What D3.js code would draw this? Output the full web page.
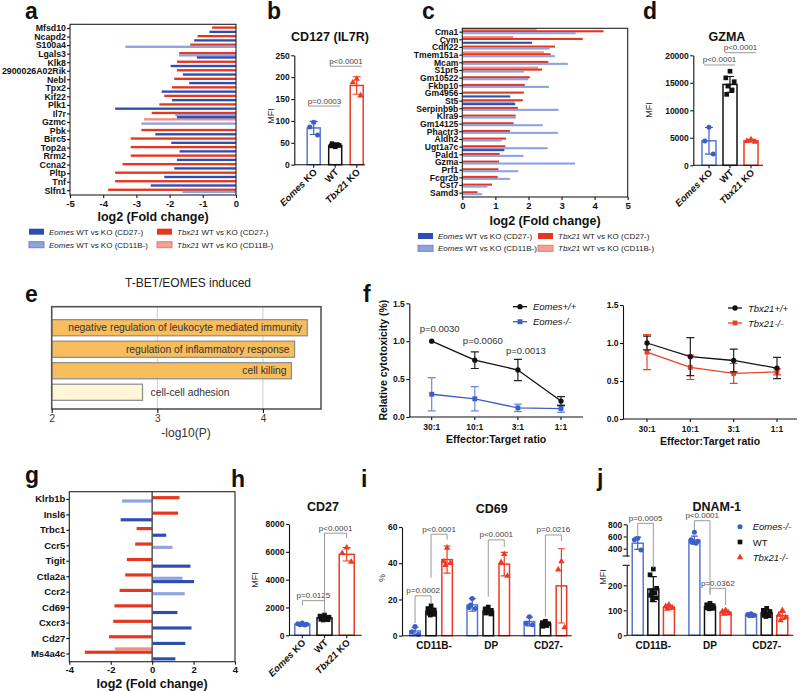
<!DOCTYPE html>
<html><head><meta charset="utf-8">
<script src="https://cdn.jsdelivr.net/npm/d3@7/dist/d3.min.js"></script>
<style>html,body{margin:0;padding:0;background:#fff;}</style>
</head><body>
<svg id="chart" width="800" height="691" xmlns="http://www.w3.org/2000/svg"></svg>
<script>
// ================= DATA =================
// panel a
const aGenes = ["Mfsd10","Ncapd2","S100a4","Lgals3","Klk8","2900026A02Rik","Nebl","Tpx2","Kif22","Plk1","Il7r","Gzmc","Pbk","Birc5","Top2a","Rrm2","Ccna2","Pltp","Tnf","Slfn1"];
const aTbx21CD11B = [null,null,null,null,null,null,null,null,null,null,null,-2.77,null,null,null,null,null,null,null,null];
const aTbx21CD27  = [-0.72,-1.16,-1.38,-1.71,-1.78,-1.78,-1.86,-1.93,-2.16,-2.31,-2.54,null,-2.85,-3.17,-3.17,-3.17,-3.42,-3.64,-3.64,-3.85];
const aEomesCD11B = [null,null,-3.33,-1.72,null,null,null,null,null,null,-1.83,-2.85,null,null,null,null,null,null,null,-1.61];
const aEomesCD27  = [-0.8,-1.26,null,-1.18,-1.97,-1.6,-1.41,-2.24,-1.93,-3.64,-1.78,null,-2.43,-1.95,-1.7,-1.78,-1.86,-2.16,-2.57,null];
const aTicks = [-5,-4,-3,-2,-1,0];
// panel c
const cGenes = ["Cma1","Cym","Cdh22","Tmem151a","Mcam","S1pr5","Gm10522","Fkbp10","Gm4956","St5","Serpinb9b","Klra9","Gm14125","Phactr3","Aldh2","Ugt1a7c","Pald1","Gzma","Prf1","Fcgr2b","Cst7","Samd3"];
const cTbx21CD11B = [2.25,1.54,null,2.47,null,2.29,null,null,null,null,null,null,null,null,null,null,null,null,null,null,null,null];
const cTbx21CD27  = [4.27,3.64,2.8,2.67,2.6,2.41,2.04,1.89,1.86,1.83,1.68,1.61,1.55,1.44,1.32,1.3,1.13,1.11,1.09,1.07,0.9,0.46];
const cEomesCD11B = [3.43,null,2.64,2.8,3.19,1.87,1.99,2.62,null,1.58,2.91,1.62,2.43,2.89,1.19,2.58,1.85,3.41,1.69,1.44,0.76,0.6];
const cEomesCD27  = [null,2.11,null,null,null,null,null,null,1.45,1.6,null,null,null,null,null,1.27,null,null,null,null,null,null];
const cTicks = [0,1,2,3,4,5];
// panel g
const gGenes = ["Klrb1b","Insl6","Trbc1","Ccr5","Tigit","Ctla2a","Ccr2","Cd69","Cxcr3","Cd27","Ms4a4c"];
const gTbx21CD11B = [null,null,null,null,null,null,null,null,null,null,-1.8];
const gTbx21CD27  = [1.32,1.25,-0.75,-0.82,-1.22,-1.3,-1.57,-1.82,-1.88,-2.08,-3.25];
const gEomesCD11B = [-1.45,null,null,0.98,null,1.46,1.57,null,null,null,null];
const gEomesCD27  = [null,-1.52,0.68,null,1.85,2.02,null,1.22,1.9,1.6,1.12];
const gTicks = [-4,-2,0,2,4];
// panels b, d, h
const groupsKO = ["Eomes KO","WT","Tbx21 KO"];
const bMean = [84,44,181], bSD = [15,3,20];
const bPts = [[97,86,68],[41,43,44,45,46,48],[196,188,158]];
const bTicks = [0,50,100,150,200,250];
const bPvals = [{a:0,b:1,y:134,t:"p=0.0003"},{a:1,b:2,y:225,t:"p<0.0001"}];
const dMean = [4450,14700,4450], dSD = [2420,1450,250];
const dPts = [[6900,4400,2050],[17100,15900,15200,14400,13700,12900],[4700,4400,4250]];
const dTicks = [0,5000,10000,15000,20000];
const dPvals = [{a:0,b:1,y:18240,t:"p<0.0001"},{a:1,b:2,y:20470,t:"p<0.0001"}];
const hMean = [800,1250,5820], hSD = [60,130,480];
const hPts = [[880,830,790,760,740],[1460,1380,1300,1250,1200,1150,1120,1100],[6300,5900,5280]];
const hTicks = [0,2000,4000,6000,8000];
const hPvals = [{a:0,b:1,y:2490,ya:2110,yb:1580,t:"p=0.0125"},{a:1,b:2,y:7340,ya:1700,yb:6980,t:"p<0.0001"}];
// panel e
const eTerms = ["negative regulation of leukocyte mediated immunity","regulation of inflammatory response","cell killing","cell-cell adhesion"];
const eLogP = [4.42,4.3,4.27,2.86];
const eTicks = [2,3,4];
// panel f
const ratios = ["30:1","10:1","3:1","1:1"];
const fEomesWT = [1.0,0.75,0.62,0.21], fEomesWTsd = [0,0.11,0.14,0.06];
const fEomesKO = [0.30,0.24,0.12,0.11], fEomesKOsd = [0.22,0.16,0.05,0.05];
const fTbxWT = [1.0,0.82,0.77,0.67], fTbxWTsd = [0.09,0.25,0.15,0.14];
const fTbxKO = [0.88,0.68,0.60,0.62], fTbxKOsd = [0.23,0.16,0.13,0.04];
const fPvals = ["p=0.0030","p=0.0060","p=0.0013",null];
const fPvalY = [1.17,1.01,0.88,null];
const fTicks = [0,0.5,1.0,1.5];
// panels i, j
const subsets = ["CD11B-","DP","CD27-"];
const iMeanEomes = [2.6,17,7.8], iSDEomes = [2.1,3.5,2.4];
const iMeanWT = [13.5,13.6,6.5], iSDWT = [1.6,1.3,1.0];
const iMeanTbx = [42,39.5,27.5], iSDTbx = [7.5,6.5,20.5];
const iPtsEomes = [[5,2.2,0.7],[20.5,15.5,15,17],[10.5,6.8,6]];
const iPtsWT = [[16.5,15,14.2,13.5,13,12.4,11.8,11.4],[15.8,14.8,14,13.5,13,12.5,12],[8,7.2,6.6,6,5.6,5.2]];
const iPtsTbx = [[48.5,41,40,39],[45,40.5,33],[41,36.5,4.6]];
const iTicks = [0,20,40,60];
const iPvals = [{s:0,a:0,b:1,y:22,ya:7,yb:17.5,t:"p=0.0002"},{s:0,a:1,b:2,y:56,ya:32,yb:53,t:"p<0.0001"},{s:1,a:1,b:2,y:52.9,ya:21.5,yb:49,t:"p<0.0001"},{s:2,a:1,b:2,y:55.6,ya:10.5,yb:52.3,t:"p=0.0216"}];
const jMeanEomes = [490,540,81], jSDEomes = [100,65,4];
const jMeanWT = [185,115,90], jSDWT = [50,12,14];
const jMeanTbx = [113,92,78], jSDTbx = [8,9,14];
const jPtsEomes = [[570,545,380],[670,545,520,505,490,510],[86,83,80,78,79]];
const jPtsWT = [[265,242,188,178,170,160,150,145],[128,122,118,115,112,110,108,106],[108,100,95,90,85,80,78,75]];
const jPtsTbx = [[122,116,110,106],[100,95,88,86],[100,82,72,60]];
const jTicksLow = [0,100,200], jTicksHigh = [400,600,800];
const jPvals = [{s:0,a:0,b:1,y:816,ya:597,yb:270,t:"p=0.0005"},{s:1,a:0,b:1,y:859,ya:707,yb:168,t:"p<0.0001"},{s:1,a:1,b:2,y:188,ya:161,yb:121,t:"p=0.0362"}];
const jLegend = ["Eomes-/-","WT","Tbx21-/-"];

// ================= DRAWING =================
const FONT="'Liberation Sans', Arial, Helvetica, sans-serif";
const svg=d3.select("#chart").attr("font-family",FONT);
svg.append("rect").attr("width",800).attr("height",691).attr("fill","#fff");
const COL={lred:"#F28E80",red:"#E6361F",lblue:"#8FA3DE",blue:"#2E4DB0"};
const GRP=["#3C5FC7","#111111","#EE3A24"];
const SYM=[d3.symbolCircle,d3.symbolSquare,d3.symbolTriangle];
const SYMSIZE=[20,22,18];
const JIT=[0,-1,1,-0.5,0.5,-0.8,0.8,-0.25,0.25];

function rich(s){ return s.split(/(Eomes|Tbx21)/).filter(p=>p).map(p=>({t:p,it:/^(Eomes|Tbx21)$/.test(p)})); }
function txt(p,x,y,t,o={}){
  const e=p.append("text").attr("x",x).attr("y",y).attr("font-family",FONT).attr("font-size",o.fs||10)
   .attr("font-weight",o.fw||"normal").attr("font-style",o.it?"italic":"normal")
   .attr("text-anchor",o.anchor||"start").attr("fill",o.fill||"#111");
  if(o.rot!=null) e.attr("transform",`rotate(${o.rot},${x},${y})`);
  if(Array.isArray(t)) t.forEach(s=>e.append("tspan").attr("font-style",s.it?"italic":"normal").text(s.t));
  else e.text(t);
  return e;
}
function styleAx(g,fs,fw){
  g.attr("font-family",FONT);
  g.selectAll("text").attr("font-family",FONT).attr("font-size",fs).attr("font-weight",fw||"bold").attr("fill","#111");
  g.selectAll("path.domain,line").attr("stroke","#111").attr("stroke-width",1.1);
  return g;
}
function line(p,x1,y1,x2,y2,c,w){ return p.append("line").attr("x1",x1).attr("y1",y1).attr("x2",x2).attr("y2",y2).attr("stroke",c||"#111").attr("stroke-width",w||1.1); }
function drawGroup(g,cx,mean,sd,pts,gi,bw,y,o={}){
  const c=GRP[gi];
  g.append("rect").attr("x",cx-bw/2).attr("y",y(mean)).attr("width",bw).attr("height",y(0)-y(mean))
   .attr("fill","none").attr("stroke",c).attr("stroke-width",o.sw||1.5).attr("stroke-opacity",gi===0?0.85:1);
  const sym=d3.symbol().type(SYM[gi]).size(SYMSIZE[gi]*(o.ps||1));
  g.append("g").selectAll("path").data(pts).join("path").attr("d",sym)
   .attr("transform",(d,i)=>`translate(${cx+JIT[i%JIT.length]*bw*(o.jit||0.3)},${y(d)})`).attr("fill",c);
  const cw=o.cap||4, t=y(mean+sd), b=y(Math.max(0,mean-sd));
  g.append("path").attr("d",`M${cx},${b}V${t}M${cx-cw},${t}H${cx+cw}M${cx-cw},${b}H${cx+cw}`)
   .attr("fill","none").attr("stroke",c).attr("stroke-width",1.2);
}
function bracket(g,x1,x2,yl,ya,yb,t,fs){
  g.append("path").attr("d",`M${x1},${ya}V${yl}H${x2}V${yb}`).attr("fill","none").attr("stroke","#9a9a9a").attr("stroke-width",1);
  txt(g,(x1+x2)/2,yl-2.5,t,{fs:fs||8,anchor:"middle",fill:"#444"});
}
function letter(t,x,y){ txt(svg,x,y,t,{fs:23,fw:"bold"}); }

// ---- horizontal bar panels (a, c, g) ----
function hbarPanel(o){
  const x=d3.scaleLinear().domain(o.dom).range([o.x0,o.x1]);
  const y=d3.scaleBand().domain(o.genes).range([o.y0,o.y1]);
  const bw=y.bandwidth();
  const s=d3.scaleBand().domain([0,1,2,3]).range([bw*o.pad,bw*(1-o.pad)]);
  const g=svg.append("g");
  const cols=[COL.lred,COL.red,COL.lblue,COL.blue];
  o.series.forEach((vals,k)=>{
    const rows=o.genes.map((n,i)=>({n,v:vals[i]})).filter(d=>d.v!=null);
    g.append("g").selectAll("rect").data(rows).join("rect")
     .attr("x",d=>Math.min(x(0),x(d.v))).attr("width",d=>Math.abs(x(d.v)-x(0)))
     .attr("y",d=>y(d.n)+s(k)).attr("height",s.bandwidth()*o.hf).attr("fill",cols[k]);
  });
  if(o.zero) line(g,x(0),o.y0,x(0),o.y1,"#555",1.5);
  g.append("rect").attr("x",o.x0).attr("y",o.y0).attr("width",o.x1-o.x0).attr("height",o.y1-o.y0)
   .attr("fill","none").attr("stroke","#222").attr("stroke-width",1.1);
  const ax=g.append("g").attr("transform",`translate(0,${o.y1})`)
   .call(d3.axisBottom(x).tickValues(o.ticks).tickSize(3).tickPadding(2).tickFormat(d=>String(d)));
  styleAx(ax,o.tfs); ax.select(".domain").remove();
  const ay=g.append("g").attr("transform",`translate(${o.x0},0)`).call(d3.axisLeft(y).tickSize(3).tickPadding(1));
  styleAx(ay,o.gfs); ay.select(".domain").remove();
  txt(g,(o.x0+o.x1)/2,o.titleY,"log2 (Fold change)",{fs:o.titleFs,fw:"bold",anchor:"middle"});
}
function hLegend(x0,x1,y1,y2){
  const items=[[x0,y1,COL.blue,"none","Eomes","(CD27-)"],[x0,y2,COL.lblue,"#6C86D2","Eomes","(CD11B-)"],
               [x1,y1,COL.red,"none","Tbx21","(CD27-)"],[x1,y2,"#F4A093","#EC7A6A","Tbx21","(CD11B-)"]];
  items.forEach(([x,y,f,s,gn,sub])=>{
    svg.append("rect").attr("x",x).attr("y",y-3).attr("width",15).attr("height",6).attr("fill",f).attr("stroke",s);
    txt(svg,x+20,y+3,[{t:gn,it:true},{t:" WT vs KO "+sub}],{fs:8,fill:"#222"});
  });
}

hbarPanel({genes:aGenes,series:[aTbx21CD11B,aTbx21CD27,aEomesCD11B,aEomesCD27],dom:[-5,0],x0:70,x1:236,y0:24.3,y1:195,
  pad:0,hf:1.1,ticks:aTicks,tfs:9.5,gfs:8.8,titleY:221,titleFs:12.5});
hLegend(29,157,231.7,244.7);
hbarPanel({genes:cGenes,series:[cTbx21CD11B,cTbx21CD27,cEomesCD11B,cEomesCD27],dom:[0,5],x0:462.3,x1:627.7,y0:28.3,y1:197,
  pad:0,hf:1.1,ticks:cTicks,tfs:9.5,gfs:8.6,titleY:225,titleFs:12.5});
hLegend(418,538,236,248.3);
hbarPanel({genes:gGenes,series:[gTbx21CD11B,gTbx21CD27,gEomesCD11B,gEomesCD27],dom:[-4,4],x0:69.3,x1:235,y0:491.7,y1:661.7,
  pad:0.07,hf:0.95,ticks:gTicks,tfs:9.5,gfs:9.5,titleY:688,titleFs:12.5,zero:true});

// ---- KO dot/bar panels (b, d, h) ----
function koPanel(o){
  const g=svg.append("g");
  const y=d3.scaleLinear().domain([0,o.max]).range([o.yb,o.yt]);
  const x=d3.scalePoint().domain(groupsKO).range([o.c0,o.c2]);
  groupsKO.forEach((k,i)=>drawGroup(g,x(k),o.mean[i],o.sd[i],o.pts[i],i,o.bw,y));
  const ay=g.append("g").attr("transform",`translate(${o.ax},0)`)
    .call(d3.axisLeft(y).tickValues(o.ticks).tickSize(3).tickSizeOuter(0).tickPadding(1.5).tickFormat(d=>String(d)));
  styleAx(ay,8.5);
  line(g,o.ax,o.yb,o.axEnd,o.yb);
  groupsKO.forEach(k=>{ line(g,x(k),o.yb,x(k),o.yb+3); txt(g,x(k)+4,o.yb+8,rich(k),{fs:9.5,fw:"bold",anchor:"end",rot:-45}); });
  txt(g,o.tx,o.ty,o.title,{fs:12.5,fw:"bold",anchor:"middle"});
  txt(g,o.lx,o.ly,"MFI",{fs:9,anchor:"middle",rot:-90,fill:"#333"});
  o.pv.forEach(p=>{
    const xa=x(groupsKO[p.a]), xb=x(groupsKO[p.b]);
    if(p.ya==null) bracket(g,xa-5,xb+5,y(p.y),y(p.y),y(p.y),p.t);
    else bracket(g,xa,xb,y(p.y),y(p.ya),y(p.yb),p.t);
  });
}
koPanel({max:250,yb:164.7,yt:55.3,c0:313.7,c2:356.7,ax:294.3,axEnd:365,bw:13,mean:bMean,sd:bSD,pts:bPts,ticks:bTicks,
  title:"CD127 (IL7R)",tx:330,ty:40.5,lx:274,ly:116,pv:bPvals});
koPanel({max:20000,yb:165.3,yt:55.3,c0:709,c2:751,ax:693.3,axEnd:763,bw:14,mean:dMean,sd:dSD,pts:dPts,ticks:dTicks,
  title:"GZMA",tx:727,ty:40.5,lx:652,ly:110,pv:dPvals});
koPanel({max:8000,yb:635.3,yt:524,c0:302.3,c2:346.7,ax:289,axEnd:361.7,bw:15,mean:hMean,sd:hSD,pts:hPts,ticks:hTicks,
  title:"CD27",tx:323,ty:511,lx:258,ly:580,pv:hPvals});

// ---- panel e ----
(function(){
  const g=svg.append("g");
  const x=d3.scaleLinear().domain([2,4.55]).range([51.7,321]);
  const y=d3.scaleBand().domain(eTerms).range([317,403]).paddingInner(0.25).paddingOuter(0.125);
  const top=306.7,bot=409;
  [3,4].forEach(v=>line(g,x(v),top,x(v),bot,"#cfcfcf",1));
  g.selectAll("rect.bar").data(eTerms).join("rect").attr("class","bar")
   .attr("x",x(2)).attr("y",d=>y(d)).attr("width",(d,i)=>x(eLogP[i])-x(2)).attr("height",y.bandwidth())
   .attr("fill",(d,i)=>eLogP[i]>3?"#F8BD5C":"#FFF6D8").attr("stroke","#8a8a8a").attr("stroke-width",1.2);
  eTerms.forEach((t,i)=>{
    const yy=y(t)+y.bandwidth()/2+3.6;
    if(eLogP[i]>3) txt(g,x(eLogP[i])-5,yy,t,{fs:10.3,anchor:"end",fill:"#333"});
    else txt(g,x(eLogP[i])+8,yy,t,{fs:10.3,fill:"#333"});
  });
  g.append("rect").attr("x",51.7).attr("y",top).attr("width",321-51.7).attr("height",bot-top).attr("fill","none").attr("stroke","#555").attr("stroke-width",1.6);
  const ax=g.append("g").attr("transform",`translate(0,${bot})`).call(d3.axisBottom(x).tickValues(eTicks).tickSize(4).tickPadding(2).tickFormat(d=>String(d)));
  styleAx(ax,10,"normal"); ax.select(".domain").remove(); ax.selectAll("text").attr("fill","#333");
  txt(g,186,437,"-log10(P)",{fs:12,anchor:"middle",fill:"#333"});
  txt(g,188,287,"T-BET/EOMES induced",{fs:12,anchor:"middle",fill:"#222"});
})();

// ---- panel f ----
function fPanel(o){
  const g=svg.append("g");
  const x=d3.scalePoint().domain(ratios).range([o.p0,o.p3]);
  const y=d3.scaleLinear().domain([0,1.5]).range([o.yb,o.yt]);
  const ay=g.append("g").attr("transform",`translate(${o.ax},0)`)
    .call(d3.axisLeft(y).tickValues(fTicks).tickFormat(d3.format(".1f")).tickSize(3).tickSizeOuter(0).tickPadding(1.5));
  styleAx(ay,8.5);
  line(g,o.ax,o.yb,o.axEnd,o.yb);
  ratios.forEach(r=>{ line(g,x(r),o.yb,x(r),o.yb+3); txt(g,x(r),o.yb+13,r,{fs:8.5,fw:"bold",anchor:"middle"}); });
  txt(g,(o.ax+o.axEnd)/2,o.yb+26,"Effector:Target ratio",{fs:10.5,fw:"bold",anchor:"middle"});
  o.series.forEach(s=>{
    const pts=ratios.map((r,i)=>[x(r),y(s.v[i])]);
    g.append("path").attr("d",d3.line()(pts)).attr("fill","none").attr("stroke",s.c).attr("stroke-width",1.3);
    ratios.forEach((r,i)=>{ if(s.sd[i]>0){ const cx=x(r),t=y(s.v[i]+s.sd[i]),b=y(s.v[i]-s.sd[i]);
      g.append("path").attr("d",`M${cx},${b}V${t}M${cx-4},${t}H${cx+4}M${cx-4},${b}H${cx+4}`).attr("stroke",s.ec).attr("stroke-width",1.2).attr("fill","none"); }});
    g.append("g").selectAll("path").data(s.v).join("path").attr("d",d3.symbol().type(s.sym).size(s.size))
      .attr("transform",(d,i)=>`translate(${x(ratios[i])},${y(d)})`).attr("fill",s.c);
  });
  o.legend.forEach((s,i)=>{
    const ly=o.ly+i*15;
    line(g,o.lx,ly,o.lx+14,ly,s.c,1.3);
    g.append("path").attr("d",d3.symbol().type(s.sym).size(s.size)).attr("transform",`translate(${o.lx+7},${ly})`).attr("fill",s.c);
    txt(g,o.lx+20,ly+3.5,s.name,{fs:9.5,it:true});
  });
  if(o.pv) ratios.forEach((r,i)=>{ if(o.pv[i]) txt(g,x(r)+8,y(o.pvy[i])+3.5,o.pv[i],{fs:9.5,anchor:"middle",fill:"#333"}); });
  if(o.ylab) txt(g,o.ylx,(o.yb+o.yt)/2,"Relative cytotoxicity (%)",{fs:10.5,fw:"bold",anchor:"middle",rot:-90});
}
const sWTe={v:fEomesWT,sd:fEomesWTsd,c:"#111",ec:"#222",sym:d3.symbolCircle,size:22,name:"Eomes+/+"};
const sKOe={v:fEomesKO,sd:fEomesKOsd,c:"#3A5FC8",ec:"#6A8BDA",sym:d3.symbolSquare,size:24,name:"Eomes-/-"};
const sWTt={v:fTbxWT,sd:fTbxWTsd,c:"#111",ec:"#222",sym:d3.symbolCircle,size:22,name:"Tbx21+/+"};
const sKOt={v:fTbxKO,sd:fTbxKOsd,c:"#EE4128",ec:"#EE4128",sym:d3.symbolSquare,size:24,name:"Tbx21-/-"};
fPanel({p0:431.7,p3:561,ax:409.3,axEnd:583,yb:417,yt:303.3,series:[sKOe,sWTe],legend:[sWTe,sKOe],lx:513,ly:306.7,
  pv:fPvals,pvy:fPvalY,ylab:true,ylx:387});
fPanel({p0:647,p3:777,ax:623,axEnd:797,yb:419,yt:305,series:[sKOt,sWTt],legend:[sWTt,sKOt],lx:728,ly:308});

// ---- panel i ----
(function(){
  const g=svg.append("g");
  const y=d3.scaleLinear().domain([0,60]).range([635.7,527]);
  const X=d3.scaleBand().domain(subsets).range([402.5,574]);
  const off=[-16,0,16];
  const means=[iMeanEomes,iMeanWT,iMeanTbx], sds=[iSDEomes,iSDWT,iSDTbx], pts=[iPtsEomes,iPtsWT,iPtsTbx];
  const cx=(s,gi)=>X(subsets[s])+X.bandwidth()/2+off[gi];
  subsets.forEach((s,si)=>[0,1,2].forEach(gi=>drawGroup(g,cx(si,gi),means[gi][si],sds[gi][si],pts[gi][si],gi,10.5,y,{cap:3.5})));
  const ay=g.append("g").attr("transform","translate(402,0)").call(d3.axisLeft(y).tickValues(iTicks).tickSize(3).tickSizeOuter(0).tickPadding(1.5));
  styleAx(ay,8.5);
  line(g,402,635.7,571.7,635.7);
  subsets.forEach((s,si)=>txt(g,cx(si,1)+3,649,s,{fs:10,fw:"bold",anchor:"middle"}));
  txt(g,491.7,512.5,"CD69",{fs:12.5,fw:"bold",anchor:"middle"});
  txt(g,384.5,578,"%",{fs:9,anchor:"middle",rot:-90,fill:"#333"});
  iPvals.forEach(p=>bracket(g,cx(p.s,p.a),cx(p.s,p.b),y(p.y),y(p.ya),y(p.yb),p.t));
})();

// ---- panel j (broken axis) ----
(function(){
  const g=svg.append("g");
  const lo=d3.scaleLinear().domain([0,280]).range([635.3,565.3]);
  const up=d3.scaleLinear().domain([280,800]).range([556,524.3]);
  const y=v=>v<=280?lo(v):up(v);
  const X=d3.scaleBand().domain(subsets).range([625,795]);
  const off=[-15.6,0,15.6];
  const means=[jMeanEomes,jMeanWT,jMeanTbx], sds=[jSDEomes,jSDWT,jSDTbx], pts=[jPtsEomes,jPtsWT,jPtsTbx];
  const cx=(s,gi)=>X(subsets[s])+X.bandwidth()/2+off[gi];
  subsets.forEach((s,si)=>[0,1,2].forEach(gi=>drawGroup(g,cx(si,gi),means[gi][si],sds[gi][si],pts[gi][si],gi,11,y,{cap:3.5})));
  const ax=626.7;
  const a1=g.append("g").attr("transform",`translate(${ax},0)`).call(d3.axisLeft(lo).tickValues(jTicksLow).tickSize(3).tickSizeOuter(0).tickPadding(1.5));
  styleAx(a1,8.5);
  const a2=g.append("g").attr("transform",`translate(${ax},0)`).call(d3.axisLeft(up).tickValues(jTicksHigh).tickSize(3).tickSizeOuter(0).tickPadding(1.5));
  styleAx(a2,8.5);
  line(g,ax-4,556,ax+3,556); line(g,ax-4,565.3,ax+3,565.3);
  line(g,ax,635.3,793.3,635.3);
  subsets.forEach((s,si)=>txt(g,cx(si,1),649,s,{fs:10,fw:"bold",anchor:"middle"}));
  txt(g,716.7,511,"DNAM-1",{fs:12.5,fw:"bold",anchor:"middle"});
  txt(g,606,577,"MFI",{fs:9,anchor:"middle",rot:-90,fill:"#333"});
  jPvals.forEach(p=>bracket(g,cx(p.s,p.a),cx(p.s,p.b),y(p.y),y(p.ya),y(p.yb),p.t));
  jLegend.forEach((n,i)=>{
    const ly=526.7+i*15.3;
    g.append("path").attr("d",d3.symbol().type(SYM[i]).size(SYMSIZE[i])).attr("transform",`translate(740,${ly})`).attr("fill",GRP[i]);
    txt(g,752.7,ly+3.5,n,{fs:9.5,it:i!==1});
  });
})();

// ---- panel letters ----
letter("a",25,19); letter("b",267,19); letter("c",422,19); letter("d",643,19);
letter("e",25,302); letter("f",363,302);
letter("g",25,483); letter("h",231,487); letter("i",361,487); letter("j",597,486);
</script></body></html>
